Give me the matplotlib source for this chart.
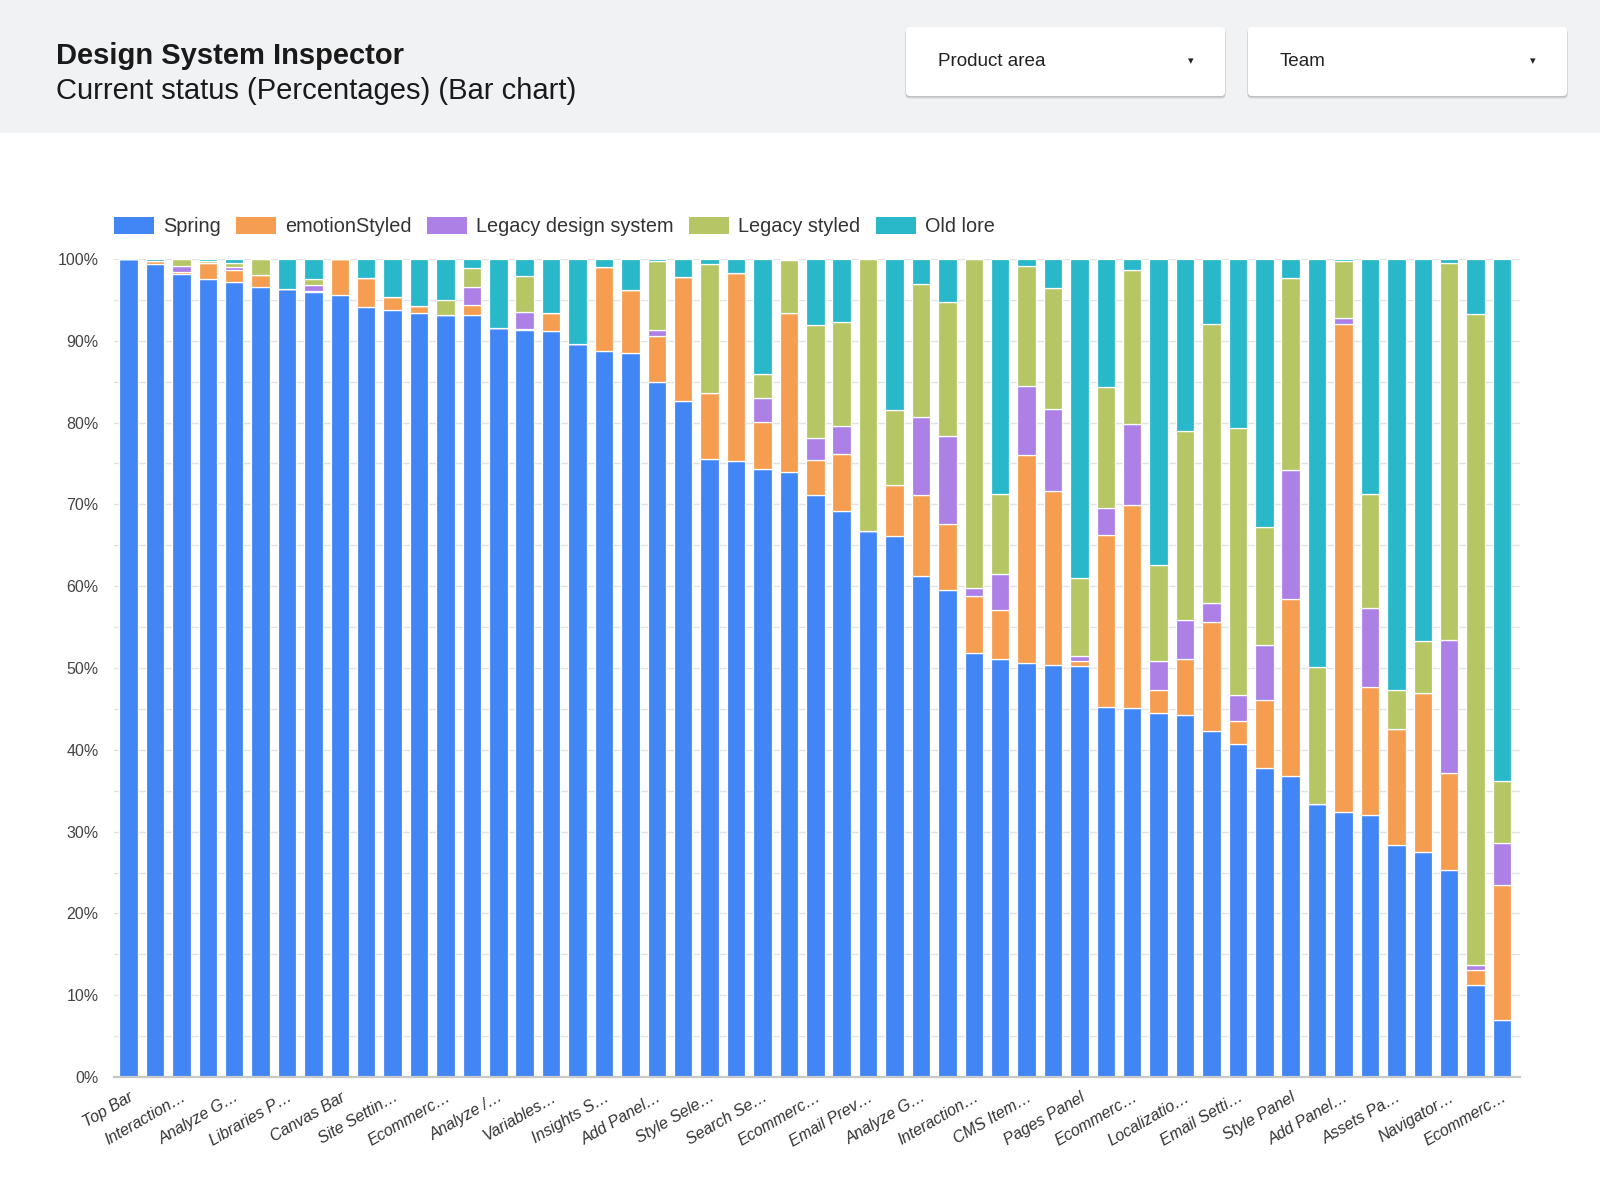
import matplotlib
matplotlib.use("Agg")
import matplotlib.pyplot as plt
from matplotlib.patches import FancyBboxPatch, Rectangle, Patch
import numpy as np

plt.rcParams['font.family'] = ['Liberation Sans', 'DejaVu Sans']

# ---------------- data ----------------
series_names = ["Spring", "emotionStyled", "Legacy design system", "Legacy styled", "Old lore"]
series_colors = ["#4285F4", "#F59E51", "#AC80E5", "#B7C665", "#29B7CA"]

tick_labels = ["Top Bar", "Interaction\u2026", "Analyze G\u2026", "Libraries P\u2026", "Canvas Bar",
               "Site Settin\u2026", "Ecommerc\u2026", "Analyze /\u2026", "Variables\u2026", "Insights S\u2026",
               "Add Panel\u2026", "Style Sele\u2026", "Search Se\u2026", "Ecommerc\u2026", "Email Prev\u2026",
               "Analyze G\u2026", "Interaction\u2026", "CMS Item\u2026", "Pages Panel", "Ecommerc\u2026",
               "Localizatio\u2026", "Email Setti\u2026", "Style Panel", "Add Panel\u2026", "Assets Pa\u2026",
               "Navigator\u2026", "Ecommerc\u2026"]

spring = [100, 99.4, 98.2, 97.6, 97.2, 96.6, 96.3, 96.0, 95.6, 94.1,
          93.75, 93.4, 93.2, 93.2, 91.6, 91.3, 91.2, 89.6, 88.7, 88.45,
          85.0, 82.7, 75.5, 75.25, 74.3, 73.95, 71.2, 69.25, 66.7, 66.15,
          61.3, 59.5, 51.8, 51.1, 50.65, 50.4, 50.3, 45.25, 45.1, 44.5,
          44.25, 42.25, 40.75, 37.75, 36.8, 33.35, 32.4, 32.0, 28.35, 27.55,
          25.25, 11.2, 7.0]
emotion_styled = [0, 0.3, 0.2, 1.85, 1.4, 1.5, 0, 0.1, 4.4, 3.55,
                  1.6, 0.8, 0, 1.15, 0, 0.1, 2.2, 0, 10.3, 7.8,
                  5.55, 15.05, 8.15, 23.05, 5.8, 19.5, 4.25, 6.9, 0, 6.25,
                  9.8, 8.15, 6.95, 6.05, 25.45, 21.2, 0.6, 20.95, 24.8, 2.85,
                  6.85, 13.35, 2.8, 8.35, 21.65, 0, 59.6, 15.65, 14.25, 19.35,
                  11.9, 1.9, 16.5]
legacy_ds = [0, 0, 0.75, 0.1, 0.45, 0, 0, 0.7, 0, 0,
             0, 0, 0, 2.25, 0, 2.15, 0, 0, 0, 0,
             0.75, 0, 0, 0, 2.85, 0, 2.7, 3.4, 0, 0,
             9.6, 10.75, 1.05, 4.35, 8.35, 10.1, 0.6, 3.4, 9.9, 3.5,
             4.8, 2.3, 3.15, 6.75, 15.7, 0, 0.75, 9.65, 0, 0,
             16.25, 0.65, 5.1]
legacy_styled = [0, 0, 0.8, 0.15, 0.5, 1.9, 0, 0.8, 0, 0,
                 0, 0, 1.75, 2.3, 0, 4.35, 0, 0, 0, 0,
                 8.4, 0, 15.7, 0, 2.95, 6.45, 13.75, 12.7, 33.3, 9.2,
                 16.2, 16.3, 40.2, 9.8, 14.65, 14.75, 9.5, 14.8, 18.8, 11.8,
                 23.05, 34.1, 32.6, 14.35, 23.55, 16.75, 6.95, 13.95, 4.75, 6.4,
                 46.1, 79.55, 7.6]
old_lore = [0, 0.3, 0.05, 0.3, 0.45, 0, 3.7, 2.4, 0, 2.35,
            4.65, 5.8, 5.05, 1.1, 8.4, 2.1, 6.6, 10.4, 1.0, 3.75,
            0.3, 2.25, 0.65, 1.7, 14.1, 0.1, 8.1, 7.75, 0, 18.4,
            3.1, 5.3, 0, 28.7, 0.9, 3.55, 39.0, 15.6, 1.4, 37.35,
            21.05, 8.0, 20.7, 32.8, 2.3, 49.9, 0.3, 28.75, 52.65, 46.7,
            0.5, 6.7, 63.8]

series_values = [spring, emotion_styled, legacy_ds, legacy_styled, old_lore]

# ---------------- figure ----------------
W, H = 1600, 1198
fig = plt.figure(figsize=(W / 100, H / 100), dpi=100)
fig.patch.set_facecolor("white")

# background / header layer in pixel coordinates
bg = fig.add_axes([0, 0, 1, 1], zorder=-1)
bg.set_xlim(0, W)
bg.set_ylim(H, 0)
bg.axis("off")
bg.add_patch(Rectangle((0, 0), W, 133, facecolor="#F1F2F4", edgecolor="none"))

bg.text(56, 56, "Design System Inspector", fontsize=21, fontweight="bold",
        color="#1a1a1a", va="center", ha="left")
bg.text(56, 91, "Current status (Percentages) (Bar chart)", fontsize=21,
        color="#1a1a1a", va="center", ha="left")

dropdowns = [(906, "Product area"), (1248, "Team")]
for x0, label in dropdowns:
    w, h, y0 = 319, 69, 27
    for k, a in enumerate([0.05, 0.07, 0.09]):
        bg.add_patch(FancyBboxPatch((x0 - 0.5, y0 + 1.0 + k * 0.8), w + 1, h,
                                    boxstyle="round,pad=0,rounding_size=4",
                                    facecolor="black", edgecolor="none", alpha=a))
    bg.add_patch(FancyBboxPatch((x0, y0), w, h, boxstyle="round,pad=0,rounding_size=4",
                                facecolor="white", edgecolor="none"))
    bg.text(x0 + 32, y0 + h / 2 + 0.5, label, fontsize=13.6, color="#222222",
            va="center", ha="left")
    bg.text(x0 + w - 34, y0 + h / 2, "\u25BE", fontsize=8, color="#222222",
            va="center", ha="center", family=["DejaVu Sans"])

# main chart
left, right = 114, 1520
top, bottom = 259, 1077
ax = fig.add_axes([left / W, 1 - bottom / H, (right - left) / W, (bottom - top) / H])
ax.set_facecolor("none")

n = len(spring)
x = np.arange(n)
base = np.zeros(n)
for name, vals, col in zip(series_names, series_values, series_colors):
    vals = np.array(vals, dtype=float)
    ax.bar(x, vals, bottom=base, width=0.7, color=col, edgecolor="white",
           linewidth=0.9, label=name, zorder=3)
    base += vals

ax.set_xlim(-0.55, n - 1 + 0.68)
ax.set_ylim(0, 100)

ax.set_yticks(np.arange(0, 101, 10))
ax.set_yticklabels([f"{v}%" for v in range(0, 101, 10)])
ax.set_yticks(np.arange(5, 100, 10), minor=True)
ax.grid(axis="y", which="both", color="#E2E2E2", linewidth=1.0, zorder=0)
ax.grid(axis="x", visible=False)
ax.tick_params(axis="y", which="both", length=0, pad=11, labelsize=11.5, labelcolor="#444444")

ax.set_xticks(x[::2])
ax.set_xticklabels(tick_labels, rotation=30, ha="right", rotation_mode="anchor",
                   fontsize=11.5, fontstyle="italic", color="#333333")
ax.tick_params(axis="x", length=0, pad=9)

for s in ["top", "right", "left"]:
    ax.spines[s].set_visible(False)
ax.spines["bottom"].set_color("#C8C8C8")
ax.spines["bottom"].set_linewidth(1.6)
ax.spines["bottom"].set_zorder(4)

handles = [Patch(facecolor=c, edgecolor="none", label=nm) for nm, c in zip(series_names, series_colors)]
leg = ax.legend(handles=handles, loc="center left", bbox_to_anchor=(0.0, 1 + (top - 226.5) / (bottom - top)),
                ncol=5, frameon=False, fontsize=14.3, handlelength=2.0, handleheight=0.95,
                handletextpad=0.45, columnspacing=0.8, borderpad=0, borderaxespad=0)
for t in leg.get_texts():
    t.set_color("#333333")

fig.savefig("out.png", dpi=100, facecolor="white")
